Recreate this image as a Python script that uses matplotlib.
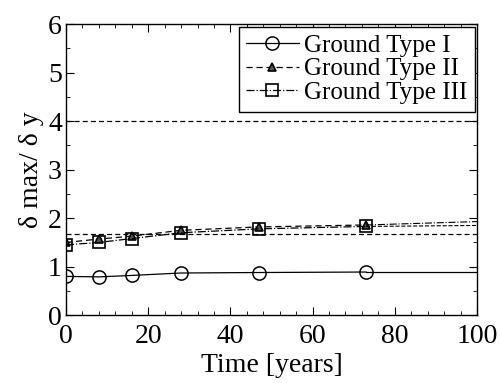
import matplotlib
matplotlib.use("Agg")
import matplotlib.pyplot as plt
from matplotlib.ticker import MultipleLocator

plt.rcParams['font.family'] = ['Liberation Serif', 'DejaVu Serif']

years = [0, 8, 16, 28, 47, 73]
type1 = [0.80, 0.79, 0.82, 0.87, 0.88, 0.89]
type2 = [1.50, 1.57, 1.63, 1.75, 1.82, 1.86]
type3 = [1.45, 1.50, 1.58, 1.70, 1.78, 1.83]
ext_x = [73, 100]
type1_ext = [0.89, 0.89]
type2_ext = [1.86, 1.93]
type3_ext = [1.83, 1.85]
hlines = [4.0, 1.68]

fig = plt.figure(figsize=(5.0, 3.83), dpi=100)
ax = fig.add_axes([0.132, 0.177, 0.822, 0.76])

ax.plot(years, type1, '-', color='black', lw=0.9, marker='o', ms=9.5, mfc='none', mec='black', mew=1.1, label='Ground Type I')
ax.plot(ext_x, type1_ext, '-', color='black', lw=0.9)
ax.plot(years, type2, '--', color='black', lw=0.9, dashes=(5, 3), marker='^', ms=6, mfc='#555555', mec='black', mew=1.2, label='Ground Type II')
ax.plot(ext_x, type2_ext, '-.', color='black', lw=0.8)
ax.plot(years, type3, '-.', color='black', lw=0.9, marker='s', ms=8.5, mfc='none', mec='black', mew=1.2, label='Ground Type III')
ax.plot(ext_x, type3_ext, '--', color='black', lw=0.8)
for h in hlines:
    ax.axhline(h, color='black', lw=0.9, ls=(0, (4, 2.5)))

ax.set_xlim(0, 100)
ax.set_ylim(0, 6)
ax.xaxis.set_major_locator(MultipleLocator(20))
ax.xaxis.set_minor_locator(MultipleLocator(4))
ax.yaxis.set_major_locator(MultipleLocator(1))
ax.yaxis.set_minor_locator(MultipleLocator(0.5))
ax.tick_params(which='both', direction='in', top=True, right=True, labelsize=20)
ax.tick_params(axis='x', pad=6)
ax.tick_params(axis='y', pad=3)
ax.tick_params(which='major', length=6)
ax.tick_params(which='minor', length=3)
for s in ax.spines.values():
    s.set_linewidth(1.0)

ax.set_xlabel('Time [years]', fontsize=20, labelpad=3)
ax.set_ylabel('δ max/ δ y', fontsize=20, labelpad=3)

leg = ax.legend(loc='upper right', fontsize=18, frameon=True, fancybox=False,
                edgecolor='black', framealpha=1, borderpad=0.3, handlelength=2.1,
                handletextpad=0.2, labelspacing=0.05, borderaxespad=0.1)
leg.get_frame().set_linewidth(1.0)

fig.savefig('out.png', dpi=100)
